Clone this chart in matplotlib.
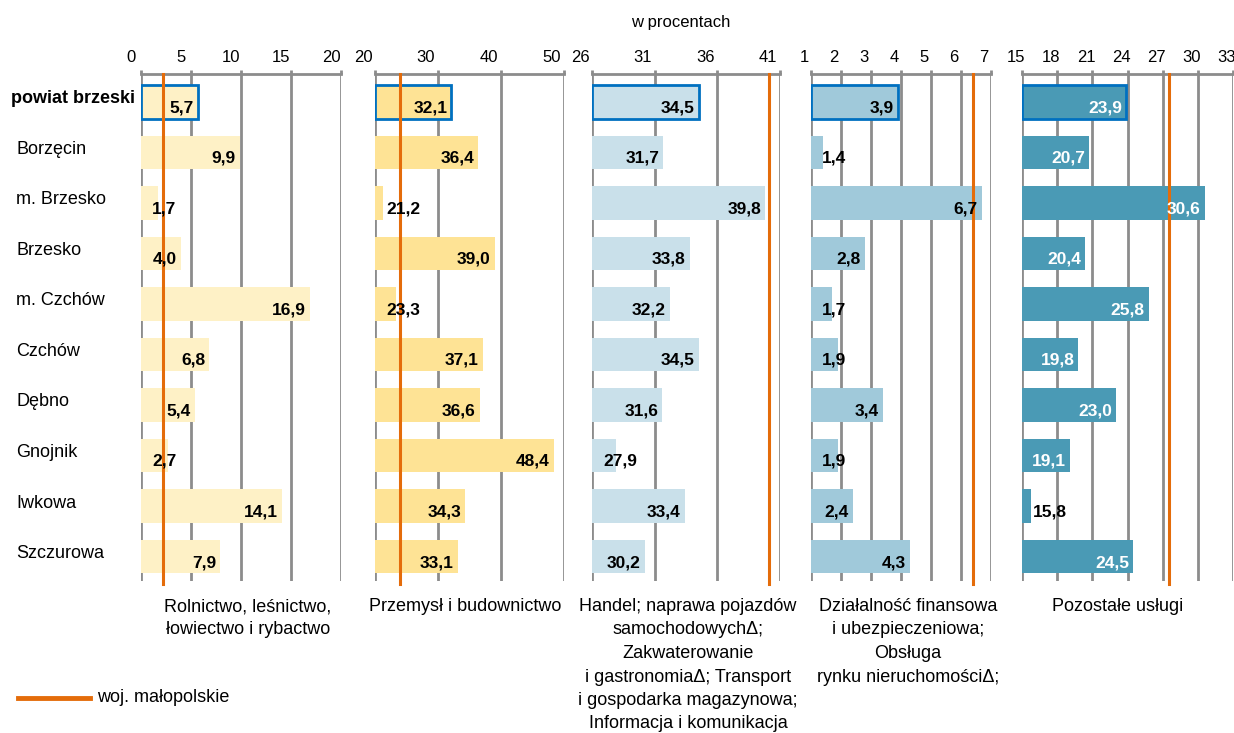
import matplotlib
matplotlib.use("Agg")
import matplotlib.pyplot as plt
import matplotlib.transforms as mtransforms
import numpy as np

plt.rcParams['font.family'] = ['Liberation Sans', 'DejaVu Sans']

# data
regions = ['powiat brzeski', 'Borzęcin', 'm. Brzesko', 'Brzesko', 'm. Czchów',
           'Czchów', 'Dębno', 'Gnojnik', 'Iwkowa', 'Szczurowa']
rolnictwo = [5.7, 9.9, 1.7, 4.0, 16.9, 6.8, 5.4, 2.7, 14.1, 7.9]
przemysl = [32.1, 36.4, 21.2, 39.0, 23.3, 37.1, 36.6, 48.4, 34.3, 33.1]
handel = [34.5, 31.7, 39.8, 33.8, 32.2, 34.5, 31.6, 27.9, 33.4, 30.2]
finanse = [3.9, 1.4, 6.7, 2.8, 1.7, 1.9, 3.4, 1.9, 2.4, 4.3]
pozostale = [23.9, 20.7, 30.6, 20.4, 25.8, 19.8, 23.0, 19.1, 15.8, 24.5]
wojewodztwo = [2.2, 24.0, 40.1, 6.4, 27.5]

panel_names = [
    'Rolnictwo, leśnictwo,\nłowiectwo i rybactwo',
    'Przemysł i budownictwo',
    'Handel; naprawa pojazdów\nsamochodowychΔ;\nZakwaterowanie\n'
    'i gastronomiaΔ; Transport\ni gospodarka magazynowa;\nInformacja i komunikacja',
    'Działalność finansowa\ni ubezpieczeniowa;\nObsługa\nrynku nieruchomościΔ;',
    'Pozostałe usługi',
]
axis_ranges = [(0, 20), (20, 50), (26, 41), (1, 7), (15, 33)]
axis_ticks = [np.arange(0, 21, 5), np.arange(20, 51, 10), np.arange(26, 42, 5),
              np.arange(1, 8, 1), np.arange(15, 34, 3)]

# layout (pixels)
W, H = 1234, 733
panel_px = [(141, 341), (375, 564), (592, 780), (811, 991), (1022, 1233)]
tick_shift = [-10, -12, -12, -7, -6]
name_shift = [7, -4, 2, 7, -10]
bar_colors = ['#FEF1C6', '#FEE395', '#C9E0EA', '#A0C9DA', '#4A9AB5']
label_colors = ['black', 'black', 'black', 'black', 'white']
grid_col = '#8C8C8C'
orange = '#E46C0A'
top_px, bot_px = 74, 581

fig = plt.figure(figsize=(W / 100, H / 100), dpi=100)

series = [rolnictwo, przemysl, handel, finanse, pozostale]
y = np.arange(len(regions))
value_labels = []
axes = []
for k, vals in enumerate(series):
    x0p, x1p = panel_px[k]
    ax = fig.add_axes([x0p / W, 1 - bot_px / H, (x1p - x0p) / W, (bot_px - top_px) / H])
    axes.append(ax)
    lo, hi = axis_ranges[k]
    vals = np.array(vals)
    bars = ax.barh(y, vals - lo, left=lo, height=0.66, color=bar_colors[k],
                   edgecolor='none', zorder=2)
    bars[0].set_edgecolor('#0070C0')
    bars[0].set_linewidth(2.0)
    ax.axvline(wojewodztwo[k], color=orange, lw=2.2, zorder=3, ymin=-0.005, clip_on=False)
    ax.set_xlim(lo, hi)
    ax.set_ylim(len(regions) - 0.515, -0.554)
    ax.set_xticks(axis_ticks[k])
    ax.set_yticks([])
    ax.xaxis.tick_top()
    ax.tick_params(axis='x', length=3, width=2, color=grid_col, labeltop=False, labelbottom=False)
    ax.grid(axis='x', color=grid_col, lw=2, zorder=0)
    ax.set_axisbelow(True)
    for s in ['left', 'right', 'bottom']:
        ax.spines[s].set_visible(False)
    ax.spines['top'].set_color(grid_col)
    ax.spines['top'].set_linewidth(2)
    ax.patch.set_alpha(0)

    # tick labels drawn as text
    tt = mtransforms.offset_copy(ax.get_xaxis_transform(), fig=fig,
                                 x=tick_shift[k], y=17, units='dots')
    for t in axis_ticks[k]:
        ax.text(t, 1, str(t), transform=tt, ha='center', va='center', fontsize=12)

    vt = mtransforms.offset_copy(ax.transData, fig=fig, x=-4, y=-6, units='dots')
    for i, v in enumerate(vals):
        txt = ax.text(v, i, f'{v:.1f}'.replace('.', ','), transform=vt, ha='right',
                      va='center', fontsize=12.5, fontweight='bold',
                      color=label_colors[k], zorder=4)
        value_labels.append((txt, ax, lo))

    # sector name below panel
    cx = (x0p + x1p) / 2 + name_shift[k]
    fig.text(cx / W, 1 - 598 / H, panel_names[k], ha='center', va='top',
             multialignment='center', fontsize=13, linespacing=1.5)

# region names
trans = mtransforms.blended_transform_factory(fig.transFigure, axes[0].transData)
for i, name in enumerate(regions):
    bold = i == 0
    fig.text((11 if bold else 16) / W, i, name,
             transform=mtransforms.offset_copy(trans, fig=fig, y=3, units='dots'),
             ha='left', va='center', fontsize=13,
             fontweight='bold' if bold else 'normal')

# labels that do not fit go to the start of the axis
fig.canvas.draw()
r = fig.canvas.get_renderer()
for txt, ax, lo in value_labels:
    bb = txt.get_window_extent(r)
    xs = ax.transData.transform((lo, 0))[0]
    if bb.x0 < xs + 10:
        txt.set_x(lo)
        txt.set_ha('left')
        txt.set_color('black')
        txt.set_transform(mtransforms.offset_copy(ax.transData, fig=fig, x=11, y=-6, units='dots'))

fig.text(681 / W, 1 - 22 / H, 'w procentach', ha='center', va='center', fontsize=12)

# legend
fig.add_artist(plt.Line2D([18 / W, 90 / W], [1 - 698 / H, 1 - 698 / H], color=orange, lw=3.5))
fig.text(97 / W, 1 - 698 / H, 'woj. małopolskie', ha='left', va='center', fontsize=13)

fig.savefig('out.png', dpi=100)
